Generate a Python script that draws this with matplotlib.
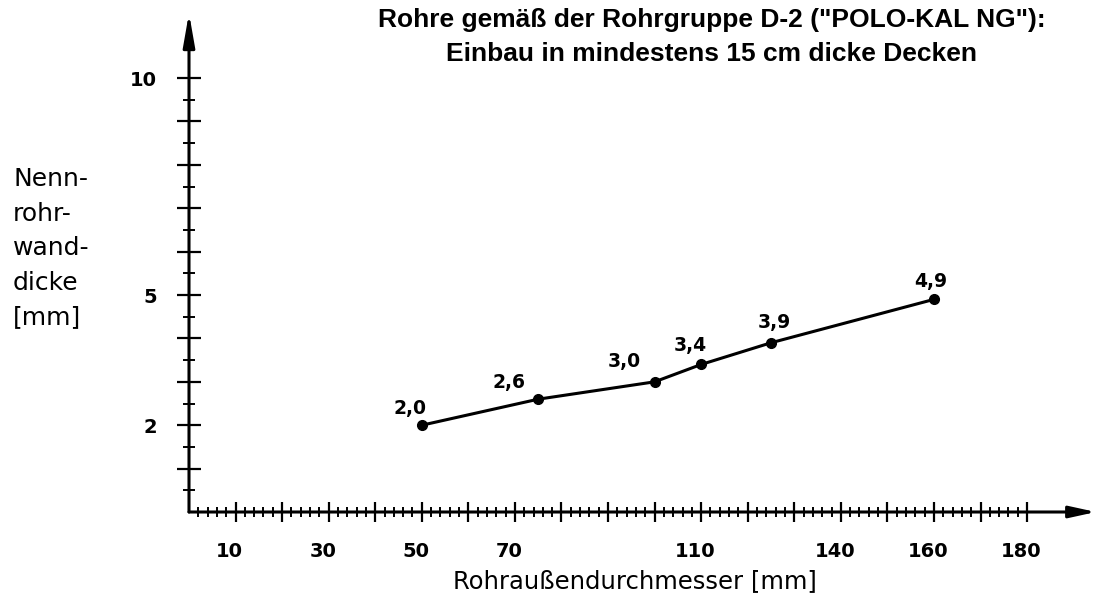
import numpy as np
import matplotlib.pyplot as plt
from matplotlib.transforms import ScaledTranslation

# Rohrgruppe D-2: Außendurchmesser [mm] und Nennrohrwanddicke [mm]
durchmesser = [50, 75, 100, 110, 125, 160]
wanddicke = [2.0, 2.6, 3.0, 3.4, 3.9, 4.9]

x_beschriftet = [10, 30, 50, 70, 110, 140, 160, 180]
y_beschriftet = [2, 5, 10]

titel = 'Rohre gemäß der Rohrgruppe D-2 ("POLO-KAL NG"):\nEinbau in mindestens 15 cm dicke Decken'
x_titel = 'Rohraußendurchmesser [mm]'
y_titel = 'Nenn-\nrohr-\nwand-\ndicke\n[mm]'

W, H = 1096, 593
fig = plt.figure(figsize=(W / 100, H / 100), dpi=100)
ax = fig.add_axes([189 / W, (H - 512) / H, (W - 189) / W, 499 / H])
ax.set_xlim(0, (W - 189) / 4.656)
ax.set_ylim(0, 11.5)
for s in ax.spines.values():
    s.set_visible(False)

# axes drawn as arrows
ax.annotate('', xy=(1, 0), xytext=(0, 0), xycoords='axes fraction',
            textcoords='axes fraction', annotation_clip=False,
            arrowprops=dict(arrowstyle='-|>,head_length=1.6,head_width=0.35',
                            color='black', lw=2.2, shrinkA=0, shrinkB=0,
                            mutation_scale=10))
ax.annotate('', xy=(0, 1), xytext=(0, 0), xycoords='axes fraction',
            textcoords='axes fraction', annotation_clip=False,
            arrowprops=dict(arrowstyle='-|>,head_length=2.0,head_width=0.35',
                            color='black', lw=2.2, shrinkA=0, shrinkB=0,
                            mutation_scale=10))

# ticks
x_major = np.arange(10, 181, 10)
ax.set_xticks(x_major)
ax.set_xticks([v for v in range(2, 180, 2) if v % 10], minor=True)
ax.set_xticklabels([str(v) if v in x_beschriftet else '' for v in x_major],
                   fontweight='bold')
y_major = np.arange(1, 11)
ax.set_yticks(y_major)
ax.set_yticks(np.arange(0.5, 10, 1), minor=True)
ax.set_yticklabels([str(v) if v in y_beschriftet else '' for v in y_major],
                   fontweight='bold')

ax.tick_params(axis='x', which='major', direction='inout', length=14.4, width=1.6,
               pad=14.4, labelsize=14)
ax.tick_params(axis='x', which='minor', direction='inout', length=6.5, width=1.4)
ax.tick_params(axis='y', which='major', direction='inout', length=17, width=1.6,
               pad=14.5, labelsize=14)
ax.tick_params(axis='y', which='minor', direction='inout', length=8.6, width=1.4)

shift = ScaledTranslation(-6 / 100, 0, fig.dpi_scale_trans)
for lab in ax.get_xticklabels():
    lab.set_transform(lab.get_transform() + shift)

# data
ax.plot(durchmesser, wanddicke, color='black', lw=2.2, marker='o', ms=7,
        zorder=3, clip_on=False)

# value labels, offsets in px (right, up)
label_offsets = [(-12, 17), (-29, 17), (-30, 20), (-11, 19), (3, 20), (-3, 18)]
for x, y, (dx, dy) in zip(durchmesser, wanddicke, label_offsets):
    ax.annotate(f'{y:.1f}'.replace('.', ','), (x, y), xytext=(dx * 0.72, dy * 0.72),
                textcoords='offset points', ha='center', va='center',
                fontsize=13.5, fontweight='bold')

# multi-line texts: y is the baseline of the last line
fig.text(711.5 / W, 1 - 61 / H, titel, ha='center', va='baseline',
         multialignment='center', fontsize=19, fontweight='bold',
         family='Liberation Sans', linespacing=1.5)
fig.text(635 / W, 1 - 588 / H, x_titel, ha='center', va='baseline', fontsize=17.5)
fig.text(13 / W, 1 - 324 / H, y_titel, ha='left', va='baseline', fontsize=18,
         linespacing=1.55)

fig.savefig('out.png', dpi=100)
